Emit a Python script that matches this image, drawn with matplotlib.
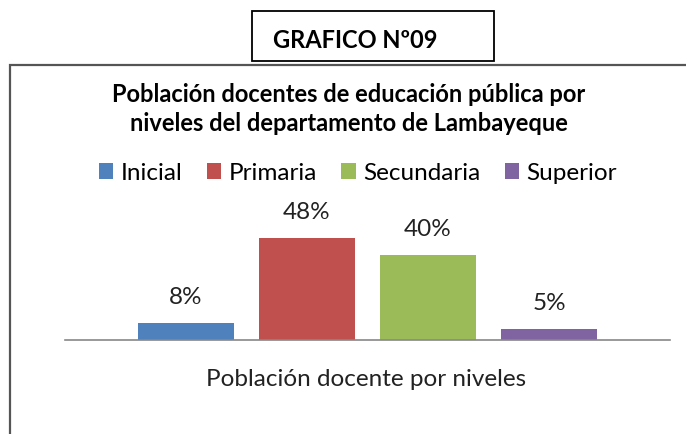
import matplotlib
matplotlib.use("Agg")
import matplotlib.pyplot as plt
from matplotlib.patches import Rectangle

plt.rcParams['font.family'] = ['Lato', 'DejaVu Sans']

niveles = ["Inicial", "Primaria", "Secundaria", "Superior"]
porcentajes = [8, 48, 40, 5]
etiquetas = ["8%", "48%", "40%", "5%"]
colores = ["#4F81BD", "#C0504D", "#9BBB59", "#8064A2"]

W, H = 686, 435
fig = plt.figure(figsize=(W / 100, H / 100), dpi=100)

# outer frame of the chart (runs off the right and bottom edges)
fig.patches.append(Rectangle((10 / W, -0.1), 1.2, (H - 66) / H + 0.1,
                             transform=fig.transFigure, fill=False,
                             edgecolor="#555555", linewidth=1.6))

ax = fig.add_axes([65 / W, 94 / H, 605 / W, 127.5 / H])
pos = range(len(niveles))
bars = ax.bar(pos, porcentajes, width=0.8, color=colores, label=niveles)
for b, txt in zip(bars, etiquetas):
    ax.annotate(txt, (b.get_x() + b.get_width() / 2, b.get_height()),
                xytext=(0, 19), textcoords="offset points",
                ha="center", va="center", fontsize=17.5, color="#222222",
                annotation_clip=False)

ax.set_xlim(-1, 4)
ax.set_ylim(0, 60)
ax.set_xticks([])
ax.set_yticks([])
for s in ["top", "left", "right"]:
    ax.spines[s].set_visible(False)
ax.spines["bottom"].set_color("#888888")
ax.spines["bottom"].set_linewidth(1.2)

fig.text(366 / W, 1 - 380 / H, "Población docente por niveles",
         ha="center", va="center", fontsize=17.5, color="#222222")

fig.text(349 / W, 1 - 109 / H,
         "Población docentes de educación pública por\nniveles del departamento de Lambayeque",
         ha="center", va="center", fontsize=17, fontweight="bold",
         linespacing=1.33, color="black")

fig.legend(handles=bars, labels=niveles, loc="center",
           bbox_to_anchor=(358 / W, 1 - 174 / H), ncol=4, frameon=False,
           fontsize=17.5, handlelength=0.6, handleheight=0.6,
           handletextpad=0.3, columnspacing=1.0, borderpad=0)

# numbered caption box on top of the frame line
fig.patches.append(Rectangle((252 / W, 1 - 62 / H), 242 / W, 50 / H,
                             transform=fig.transFigure, facecolor="white",
                             edgecolor="black", linewidth=1.3, zorder=5))
fig.text(355 / W, 1 - 40 / H, "GRAFICO Nº09", ha="center", va="center",
         fontsize=17, fontweight="bold", zorder=6)

fig.savefig("out.png", dpi=100)
